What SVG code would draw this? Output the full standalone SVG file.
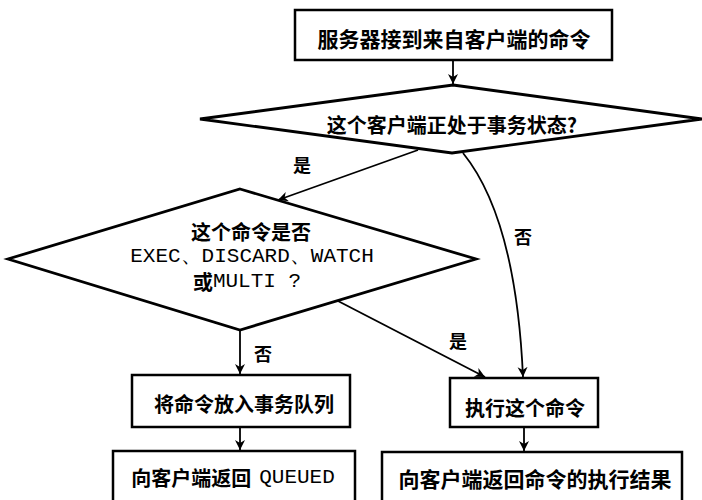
<svg xmlns="http://www.w3.org/2000/svg" width="702" height="500" viewBox="0 0 702 500">
<defs>
<style>
.box{fill:#fff;stroke:#000;stroke-width:2.5}
.dia{fill:#fff;stroke:#000;stroke-width:2.8;stroke-linejoin:miter}
.cn{font-family:"Noto Sans CJK SC","Noto Sans",sans-serif;font-weight:bold;font-size:20px;fill:#000;text-anchor:middle;dominant-baseline:central}
.mono{font-family:"Liberation Mono","DejaVu Sans Mono",monospace;font-weight:normal;font-size:21px}
.lbl{font-family:"Noto Sans CJK SC","Noto Sans",sans-serif;font-weight:bold;font-size:18px;fill:#000;text-anchor:middle;dominant-baseline:central}
.edge{fill:none;stroke:#000;stroke-width:1.8}
</style>
<marker id="arr" markerWidth="12" markerHeight="12" refX="10" refY="5" orient="auto" markerUnits="userSpaceOnUse" viewBox="0 0 12 10">
<path d="M0,0 L10,5 L0,10 L3,5 Z" fill="#000"/>
</marker>
</defs>
<rect width="702" height="500" fill="#fff"/>
<g id="connectors">
<line class="edge" x1="453" y1="60" x2="453" y2="84" marker-end="url(#arr)"/>
<line class="edge" x1="418" y1="150" x2="278" y2="200" marker-end="url(#arr)"/>
<path class="edge" d="M463,153 C497,195 518,265 523,377" marker-end="url(#arr)"/>
<line class="edge" x1="338" y1="301" x2="485" y2="377" marker-end="url(#arr)"/>
<line class="edge" x1="240" y1="330" x2="240" y2="374" marker-end="url(#arr)"/>
<line class="edge" x1="240" y1="427" x2="240" y2="450" marker-end="url(#arr)"/>
<line class="edge" x1="524" y1="427" x2="524" y2="451" marker-end="url(#arr)"/>
<text class="lbl" x="302" y="164">是</text>
<text class="lbl" x="523" y="236">否</text>
<text class="lbl" x="263" y="353">否</text>
<text class="lbl" x="458" y="340">是</text>
</g>
<g id="n1">
<rect class="box" x="295" y="10" width="317" height="50"/>
<text class="cn" x="454" y="38" style="font-size:21px">服务器接到来自客户端的命令</text>
</g>
<g id="d1">
<polygon class="dia" points="453,85 702,119 452,153 200,119"/>
<text class="cn" x="452" y="124">这个客户端正处于事务状态?</text>
</g>
<g id="d2">
<polygon class="dia" points="240,189 476,259 240,330 8,259"/>
<text class="cn" x="251" y="231">这个命令是否</text>
<text class="cn mono" x="252" y="256">EXEC、DISCARD、WATCH</text>
<text class="cn" x="247" y="281"><tspan>或</tspan><tspan class="mono">MULTI ?</tspan></text>
</g>
<g id="n2">
<rect class="box" x="132" y="375" width="218" height="52"/>
<text class="cn" x="244" y="403">将命令放入事务队列</text>
</g>
<g id="n3">
<rect class="box" x="450" y="378" width="148" height="49"/>
<text class="cn" x="525" y="407">执行这个命令</text>
</g>
<g id="n4">
<rect class="box" x="113" y="451" width="242" height="56"/>
<text class="cn" x="233" y="477"><tspan>向客户端返回</tspan><tspan class="mono" dx="8">QUEUED</tspan></text>
</g>
<g id="n5">
<rect class="box" x="382" y="452" width="300" height="56"/>
<text class="cn" x="535" y="478" style="font-size:21px">向客户端返回命令的执行结果</text>
</g>
</svg>
